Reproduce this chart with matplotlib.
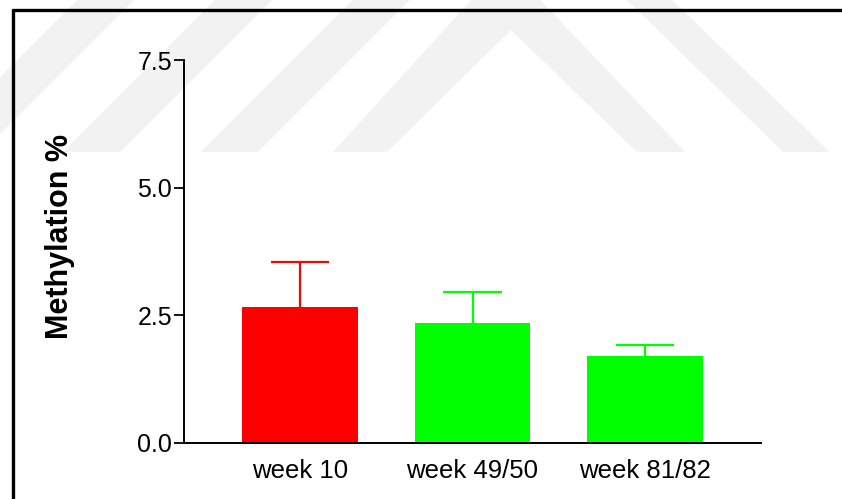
import matplotlib
matplotlib.use("Agg")
import matplotlib.pyplot as plt
from matplotlib.patches import Polygon
from matplotlib.lines import Line2D

plt.rcParams['font.family'] = ['Liberation Sans', 'DejaVu Sans']

# ---- data ----
categories = ["week 10", "week 49/50", "week 81/82"]
means = [2.67, 2.35, 1.70]
sems = [0.88, 0.60, 0.22]
colors = ["#ff0000", "#00ff00", "#00ff00"]
yticks = [0.0, 2.5, 5.0, 7.5]
ylabel = "Methylation %"

W, H = 842, 499
fig = plt.figure(figsize=(W / 100, H / 100), dpi=100)

# ---- background watermark (decorative) ----
bg = fig.add_axes([0, 0, 1, 1], zorder=-5)
bg.set_xlim(0, W)
bg.set_ylim(H, 0)
bg.axis("off")
wm = "#f2f2f2"
yb = 152
for a in [77, 215, 353]:
    w = 57
    s = 1.0
    bg.add_patch(Polygon([(a, 0), (a + w, 0), (a + w - yb * s, yb), (a - yb * s, yb)],
                         closed=True, facecolor=wm, edgecolor="none"))
bg.add_patch(Polygon([(333, yb), (505, -37), (685, yb), (637, yb), (511, 30), (387, yb)],
                     closed=True, facecolor=wm, edgecolor="none"))
bg.add_patch(Polygon([(627, 0), (672, 0), (830, yb), (783, yb)],
                     closed=True, facecolor=wm, edgecolor="none"))

# ---- frame lines ----
fig.add_artist(Line2D([11.5 / W, 1.0], [1 - 9.5 / H, 1 - 9.5 / H], transform=fig.transFigure,
                      color="black", linewidth=2.4, solid_capstyle="butt"))
fig.add_artist(Line2D([12.5 / W, 12.5 / W], [0, 1 - 8.5 / H], transform=fig.transFigure,
                      color="black", linewidth=2.4, solid_capstyle="butt"))

# ---- main axes ----
ax = fig.add_axes([184 / W, 1 - 443 / H, (761 - 184) / W, (443 - 60) / H])
ax.set_facecolor("none")
x = list(range(len(categories)))
bw = 0.67
ax.bar(x, means, width=bw, color=colors, edgecolor="none", zorder=2)
for xi, m, e, c in zip(x, means, sems, colors):
    ax.vlines(xi, m, m + e, colors=c, linewidth=1.6, zorder=1)
    ax.hlines(m + e, xi - 0.168, xi + 0.168, colors=c, linewidth=1.6, zorder=1)

ax.set_xlim(-0.67, len(categories) - 1 + 0.67)
ax.set_ylim(0, 7.5)
ax.set_yticks(yticks)
ax.set_yticklabels([f"{v:.1f}" for v in yticks], fontsize=18)
ax.set_xticks(x)
ax.set_xticklabels(categories, fontsize=18.5)
ax.tick_params(axis="y", direction="out", length=7.2, width=1.3, pad=1.5)
ax.tick_params(axis="x", length=0, pad=11.5)
for sp in ["top", "right"]:
    ax.spines[sp].set_visible(False)
for sp in ["left", "bottom"]:
    ax.spines[sp].set_linewidth(1.4)

fig.text(60 / W, 1 - 237 / H, ylabel, rotation=90, ha="center", va="center",
         fontsize=22, fontweight="bold")

fig.savefig("out.png", dpi=100)
